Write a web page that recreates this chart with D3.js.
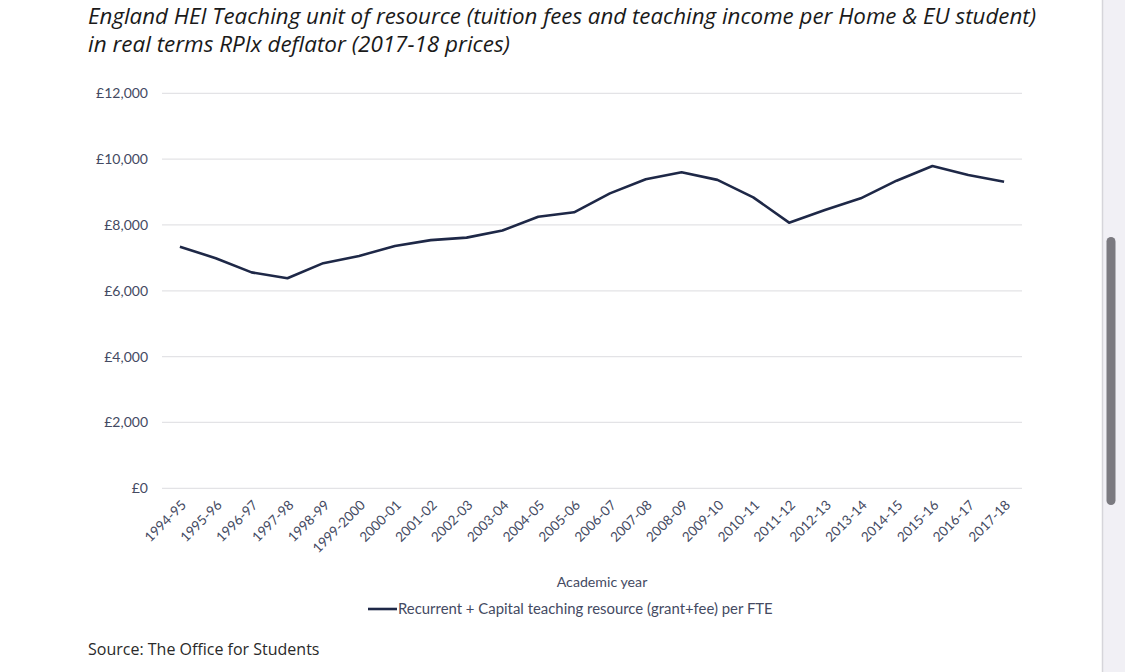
<!DOCTYPE html>
<html><head><meta charset="utf-8">
<script src="https://cdn.jsdelivr.net/npm/d3@7"></script>
<style>
html,body{margin:0;padding:0;background:#fff;overflow:hidden}
svg{display:block}
</style></head>
<body>
<svg id="chart" width="1125" height="672"></svg>
<script>
const years = ["1994-95","1995-96","1996-97","1997-98","1998-99","1999-2000","2000-01","2001-02","2002-03","2003-04","2004-05","2005-06","2006-07","2007-08","2008-09","2009-10","2010-11","2011-12","2012-13","2013-14","2014-15","2015-16","2016-17","2017-18"];
const values = [7340,6990,6560,6380,6840,7060,7360,7540,7615,7830,8250,8385,8960,9390,9600,9370,8840,8070,8455,8810,9345,9790,9520,9315];
const yTicks = [0,2000,4000,6000,8000,10000,12000];
const titleLines = ["England HEI Teaching unit of resource (tuition fees and teaching income per Home & EU student)","in real terms RPIx deflator (2017-18 prices)"];
const seriesName = "Recurrent + Capital teaching resource (grant+fee) per FTE";
const xTitle = "Academic year";
const sourceText = "Source: The Office for Students";

const svg = d3.select("#chart");
const labelColor = "#444a62";
const lineColor = "#1e2847";
const font = "Lato, 'Open Sans', sans-serif";

// side panel / scrollbar
svg.append("rect").attr("x",1102).attr("y",0).attr("width",23).attr("height",672).attr("fill","#f1f0f5");
svg.append("line").attr("x1",1102.5).attr("x2",1102.5).attr("y1",0).attr("y2",672).attr("stroke","#d6d5da").attr("stroke-width",1.5);
svg.append("rect").attr("x",1106.5).attr("y",237).attr("width",9).attr("height",268).attr("rx",4.5).attr("fill","#7b7a80");

// title
const tt = svg.append("g");
titleLines.forEach((t,i)=>{
  tt.append("text").attr("x",88).attr("y",24+i*28)
    .attr("font-family","'Open Sans', sans-serif").attr("font-style","italic")
    .attr("font-size",21).attr("fill","#1a1a1a").text(t);
});
const targetW = [948, 422];
tt.selectAll("text").each(function(d,i){
  d3.select(this).attr("textLength",targetW[i]).attr("lengthAdjust","spacingAndGlyphs");
});

const x = d3.scaleBand().domain(years).range([162,1022]);
const y = d3.scaleLinear().domain([0,12000]).range([488.3,93.3]);

// gridlines
svg.append("g").selectAll("line").data(yTicks).join("line")
  .attr("x1",162).attr("x2",1022)
  .attr("y1",d=>y(d)).attr("y2",d=>y(d))
  .attr("stroke","#e3e3e6").attr("stroke-width",1.2);

// y axis labels
const fmt = d=>"£"+d3.format(",")(d);
const yAxis = d3.axisLeft(y).tickValues(yTicks).tickFormat(fmt).tickSize(0).tickPadding(14);
const gy = svg.append("g").attr("transform","translate(162,0)").call(yAxis);
gy.select(".domain").remove();
gy.selectAll("text").attr("font-family",font).attr("font-size",14).attr("fill",labelColor);

// x axis labels
const xAxis = d3.axisBottom(x).tickSize(0);
const gx = svg.append("g").attr("transform","translate(0,488)").call(xAxis);
gx.select(".domain").remove();
gx.selectAll("text")
  .attr("font-family",font).attr("font-size",13.5).attr("fill",labelColor)
  .attr("text-anchor","end").attr("dy",null).attr("y",0)
  .attr("transform","translate(7,18) rotate(-45)");

// line
const line = d3.line().x((d,i)=>x(years[i])+x.bandwidth()/2).y(d=>y(d));
svg.append("path").datum(values).attr("d",line)
  .attr("fill","none").attr("stroke",lineColor).attr("stroke-width",2.6)
  .attr("stroke-linejoin","round");

// axis title
svg.append("text").attr("x",602).attr("y",587).attr("text-anchor","middle")
  .attr("font-family",font).attr("font-size",14.2).attr("fill",labelColor).text(xTitle);

// legend
svg.append("line").attr("x1",368).attr("x2",397).attr("y1",609).attr("y2",609)
  .attr("stroke",lineColor).attr("stroke-width",2.6);
svg.append("text").attr("x",398).attr("y",614)
  .attr("font-family",font).attr("font-size",14.9).attr("fill",labelColor).text(seriesName);

// source
svg.append("text").attr("x",88).attr("y",655)
  .attr("font-family","'Open Sans', sans-serif").attr("font-size",16).attr("fill","#2a2a2a").text(sourceText);
</script>
</body></html>
